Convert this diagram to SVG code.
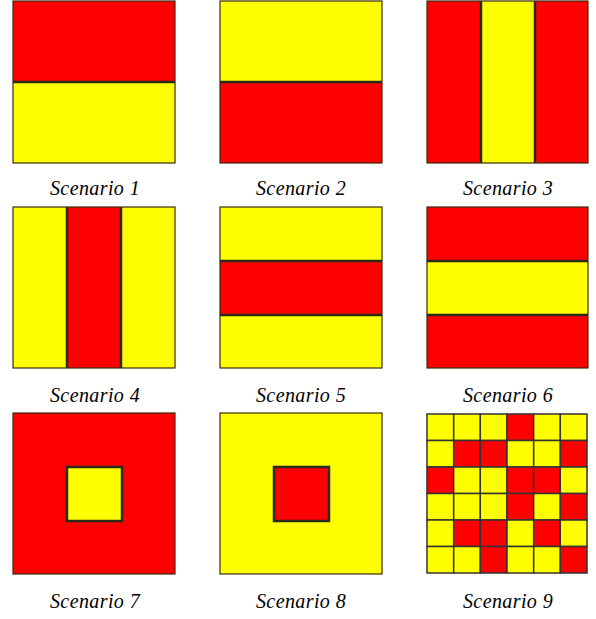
<svg xmlns="http://www.w3.org/2000/svg" width="596" height="619" viewBox="0 0 596 619">
<style>
.r{fill:#ff0000}
.y{fill:#ffff00}
.frame{fill:none;stroke:#3a2a10;stroke-width:1.2}
.div{stroke:#2a2a18;stroke-width:2.5}
.inner{stroke:#2a2a18;stroke-width:2.5}
.lbl{font-family:"Liberation Serif",serif;font-style:italic;font-size:20px;letter-spacing:0.4px;fill:#000;text-anchor:middle}
.cell{stroke:#333;stroke-width:1.5}
</style>
<rect width="596" height="619" fill="#fff"/>
<g id="s1">
<rect class="r" x="13" y="1" width="162" height="81"/>
<rect class="y" x="13" y="82" width="162" height="81"/>
<line class="div" x1="13" y1="82" x2="175" y2="82"/>
<rect class="frame" x="13" y="1" width="162" height="162"/>
<text class="lbl" x="95" y="195">Scenario 1</text>
</g>
<g id="s2">
<rect class="y" x="220" y="1" width="162" height="81"/>
<rect class="r" x="220" y="82" width="162" height="81"/>
<line class="div" x1="220" y1="82" x2="382" y2="82"/>
<rect class="frame" x="220" y="1" width="162" height="162"/>
<text class="lbl" x="301" y="195">Scenario 2</text>
</g>
<g id="s3">
<rect class="r" x="427" y="1" width="161" height="162"/>
<rect class="y" x="481" y="1" width="54" height="162"/>
<line class="div" x1="481" y1="1" x2="481" y2="163"/>
<line class="div" x1="535" y1="1" x2="535" y2="163"/>
<rect class="frame" x="427" y="1" width="161" height="162"/>
<text class="lbl" x="508" y="195">Scenario 3</text>
</g>
<g id="s4">
<rect class="y" x="13" y="207" width="162" height="161"/>
<rect class="r" x="67" y="207" width="54" height="161"/>
<line class="div" x1="67" y1="207" x2="67" y2="368"/>
<line class="div" x1="121" y1="207" x2="121" y2="368"/>
<rect class="frame" x="13" y="207" width="162" height="161"/>
<text class="lbl" x="95" y="402">Scenario 4</text>
</g>
<g id="s5">
<rect class="y" x="220" y="207" width="162" height="161"/>
<rect class="r" x="220" y="261" width="162" height="54"/>
<line class="div" x1="220" y1="261" x2="382" y2="261"/>
<line class="div" x1="220" y1="315" x2="382" y2="315"/>
<rect class="frame" x="220" y="207" width="162" height="161"/>
<text class="lbl" x="301" y="402">Scenario 5</text>
</g>
<g id="s6">
<rect class="r" x="427" y="207" width="161" height="161"/>
<rect class="y" x="427" y="261" width="161" height="54"/>
<line class="div" x1="427" y1="261" x2="588" y2="261"/>
<line class="div" x1="427" y1="315" x2="588" y2="315"/>
<rect class="frame" x="427" y="207" width="161" height="161"/>
<text class="lbl" x="508" y="402">Scenario 6</text>
</g>
<g id="s7">
<rect class="r" x="13" y="413" width="162" height="161"/>
<rect class="y inner" x="67" y="467" width="55" height="54"/>
<rect class="frame" x="13" y="413" width="162" height="161"/>
<text class="lbl" x="95" y="608">Scenario 7</text>
</g>
<g id="s8">
<rect class="y" x="220" y="413" width="162" height="161"/>
<rect class="r inner" x="274" y="467" width="55" height="54"/>
<rect class="frame" x="220" y="413" width="162" height="161"/>
<text class="lbl" x="301" y="608">Scenario 8</text>
</g>
<g id="s9">
<g class="cell">
<rect class="y" x="427" y="414" width="26.7" height="26.5"/>
<rect class="y" x="453.7" y="414" width="26.7" height="26.5"/>
<rect class="y" x="480.3" y="414" width="26.7" height="26.5"/>
<rect class="r" x="507" y="414" width="26.7" height="26.5"/>
<rect class="y" x="533.7" y="414" width="26.7" height="26.5"/>
<rect class="y" x="560.3" y="414" width="26.7" height="26.5"/>

<rect class="y" x="427" y="440.5" width="26.7" height="26.5"/>
<rect class="r" x="453.7" y="440.5" width="26.7" height="26.5"/>
<rect class="r" x="480.3" y="440.5" width="26.7" height="26.5"/>
<rect class="y" x="507" y="440.5" width="26.7" height="26.5"/>
<rect class="y" x="533.7" y="440.5" width="26.7" height="26.5"/>
<rect class="r" x="560.3" y="440.5" width="26.7" height="26.5"/>

<rect class="r" x="427" y="467" width="26.7" height="26.5"/>
<rect class="y" x="453.7" y="467" width="26.7" height="26.5"/>
<rect class="y" x="480.3" y="467" width="26.7" height="26.5"/>
<rect class="r" x="507" y="467" width="26.7" height="26.5"/>
<rect class="r" x="533.7" y="467" width="26.7" height="26.5"/>
<rect class="y" x="560.3" y="467" width="26.7" height="26.5"/>

<rect class="y" x="427" y="493.5" width="26.7" height="26.5"/>
<rect class="y" x="453.7" y="493.5" width="26.7" height="26.5"/>
<rect class="y" x="480.3" y="493.5" width="26.7" height="26.5"/>
<rect class="r" x="507" y="493.5" width="26.7" height="26.5"/>
<rect class="y" x="533.7" y="493.5" width="26.7" height="26.5"/>
<rect class="r" x="560.3" y="493.5" width="26.7" height="26.5"/>

<rect class="y" x="427" y="520" width="26.7" height="26.5"/>
<rect class="r" x="453.7" y="520" width="26.7" height="26.5"/>
<rect class="r" x="480.3" y="520" width="26.7" height="26.5"/>
<rect class="y" x="507" y="520" width="26.7" height="26.5"/>
<rect class="r" x="533.7" y="520" width="26.7" height="26.5"/>
<rect class="y" x="560.3" y="520" width="26.7" height="26.5"/>

<rect class="y" x="427" y="546.5" width="26.7" height="26.5"/>
<rect class="y" x="453.7" y="546.5" width="26.7" height="26.5"/>
<rect class="r" x="480.3" y="546.5" width="26.7" height="26.5"/>
<rect class="y" x="507" y="546.5" width="26.7" height="26.5"/>
<rect class="y" x="533.7" y="546.5" width="26.7" height="26.5"/>
<rect class="r" x="560.3" y="546.5" width="26.7" height="26.5"/>
</g>
<text class="lbl" x="508" y="608">Scenario 9</text>
</g>
</svg>
